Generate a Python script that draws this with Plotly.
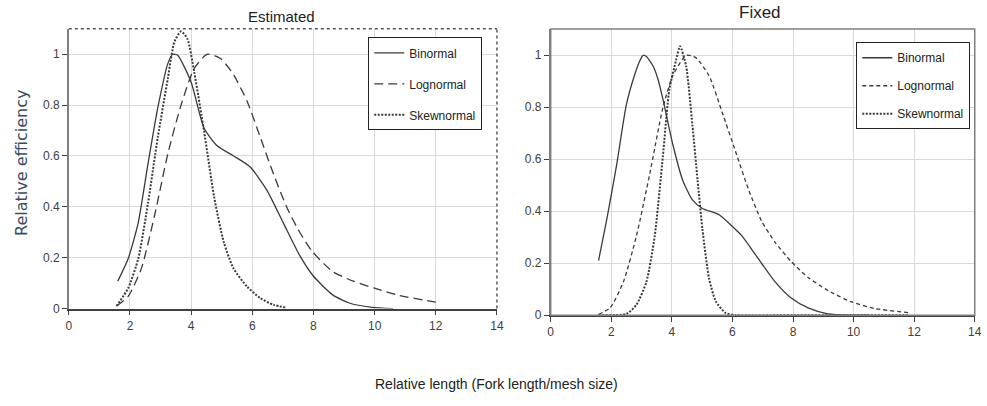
import plotly.graph_objects as go

# ---------------- data ----------------
# Estimated panel
est_bin_x = [1.6, 1.94, 2.27, 2.59, 2.91, 3.24, 3.4, 3.56, 4.0, 4.42, 4.85, 5.39, 5.93, 6.47, 7.01, 7.55, 7.98, 8.63, 9.17, 9.92, 10.6]
est_bin_y = [0.108, 0.196, 0.338, 0.57, 0.79, 0.964, 1.0, 0.996, 0.89, 0.71, 0.64, 0.60, 0.557, 0.467, 0.338, 0.209, 0.13, 0.054, 0.022, 0.005, 0.0]

est_log_x = [1.56, 1.94, 2.37, 2.8, 3.24, 3.67, 4.1, 4.53, 4.96, 5.39, 5.83, 6.26, 6.69, 7.12, 7.55, 7.98, 8.63, 9.3, 10.0, 10.8, 12.0]
est_log_y = [0.01, 0.048, 0.157, 0.364, 0.61, 0.80, 0.944, 1.0, 0.983, 0.919, 0.815, 0.674, 0.53, 0.40, 0.30, 0.222, 0.145, 0.108, 0.08, 0.052, 0.025]

est_skw_x = [1.56, 1.94, 2.27, 2.59, 2.91, 3.24, 3.45, 3.67, 3.88, 4.1, 4.42, 4.75, 5.07, 5.39, 5.83, 6.26, 6.69, 7.12]
est_skw_y = [0.01, 0.08, 0.196, 0.415, 0.674, 0.906, 1.048, 1.09, 1.06, 0.93, 0.70, 0.44, 0.26, 0.157, 0.086, 0.041, 0.015, 0.003]

# Fixed panel
fix_bin_x = [1.58, 1.85, 2.18, 2.5, 2.78, 2.94, 3.05, 3.16, 3.38, 3.54, 3.7, 4.03, 4.36, 4.68, 5.01, 5.56, 5.99, 6.32, 6.86, 7.41, 7.95, 8.5, 9.15, 9.91, 10.5]
fix_bin_y = [0.21, 0.367, 0.58, 0.81, 0.927, 0.977, 0.999, 0.994, 0.958, 0.908, 0.833, 0.657, 0.518, 0.443, 0.41, 0.386, 0.342, 0.304, 0.216, 0.128, 0.065, 0.028, 0.005, 0.0, 0.0]

fix_log_x = [1.58, 1.96, 2.4, 2.83, 3.27, 3.7, 4.03, 4.47, 4.79, 5.23, 5.66, 6.1, 6.54, 6.97, 7.41, 7.95, 8.5, 9.15, 9.91, 10.68, 11.87]
fix_log_y = [0.003, 0.028, 0.128, 0.304, 0.543, 0.795, 0.92, 0.999, 0.99, 0.92, 0.78, 0.63, 0.48, 0.36, 0.28, 0.205, 0.145, 0.095, 0.052, 0.026, 0.009]

fix_skw_x = [1.58, 2.5, 2.83, 3.16, 3.43, 3.7, 3.92, 4.14, 4.27, 4.47, 4.68, 4.85, 5.01, 5.23, 5.45, 5.77, 6.1, 8.0, 10.0, 11.8]
fix_skw_y = [0.0, 0.005, 0.04, 0.128, 0.30, 0.606, 0.87, 0.98, 1.034, 0.958, 0.73, 0.518, 0.33, 0.14, 0.053, 0.009, 0.0, 0.0, 0.0, 0.0]

series_names = ["Binormal", "Lognormal", "Skewnormal"]
x_ticks = [0, 2, 4, 6, 8, 10, 12, 14]
y_ticks = [0, 0.2, 0.4, 0.6, 0.8, 1]
panel_titles = ["Estimated", "Fixed"]
x_title = "Relative length (Fork length/mesh size)"
y_title = "Relative efficiency"

# ---------------- figure ----------------
FONT = "Liberation Sans, Arial, sans-serif"
LINE = "#3a3a3a"

fig = go.Figure()

def add(x, y, name, dash, width, xa, ya, legend):
    fig.add_trace(go.Scatter(
        x=x, y=y, name=name, mode="lines",
        line=dict(color=LINE, dash=dash, width=width, shape="spline", smoothing=0.6),
        xaxis=xa, yaxis=ya, legend=legend, legendgroup=legend + name,
    ))

add(est_bin_x, est_bin_y, series_names[0], "solid", 1.3, "x", "y", "legend")
add(est_log_x, est_log_y, series_names[1], "9px,5px", 1.3, "x", "y", "legend")
add(est_skw_x, est_skw_y, series_names[2], "2px,1.5px", 2.0, "x", "y", "legend")

add(fix_bin_x, fix_bin_y, series_names[0], "solid", 1.3, "x2", "y2", "legend2")
add(fix_log_x, fix_log_y, series_names[1], "4px,3px", 1.3, "x2", "y2", "legend2")
add(fix_skw_x, fix_skw_y, series_names[2], "2px,1.5px", 2.0, "x2", "y2", "legend2")

W, H = 987, 406
def dx(px): return px / W
def dy(py): return 1 - py / H

axis_common = dict(
    showgrid=True, gridcolor="#d9d9d9", gridwidth=1,
    zeroline=False, ticks="outside", ticklen=5, tickcolor="#404040",
    tickfont=dict(family=FONT, size=12, color="#404040"),
    showline=True, linewidth=1.5,
)

fig.update_layout(
    width=W, height=H,
    margin=dict(l=0, r=0, t=0, b=0),
    paper_bgcolor="white", plot_bgcolor="white",
    showlegend=True,
    xaxis=dict(domain=[dx(66.5), dx(499)], range=[0, 14], tickvals=x_ticks,
               linecolor="#404040", anchor="y", **axis_common),
    yaxis=dict(domain=[dy(314), dy(29.3)], range=[0, 1.1], tickvals=y_ticks,
               linecolor="#7f7f7f", anchor="x", **axis_common),
    xaxis2=dict(domain=[dx(553.3), dx(981.7)], range=[0, 14], tickvals=x_ticks,
                linecolor="#404040", anchor="y2", **axis_common),
    yaxis2=dict(domain=[dy(320.7), dy(29.5)], range=[0, 1.1], tickvals=y_ticks,
                linecolor="#7f7f7f", anchor="x2", **axis_common),
    legend=dict(x=dx(369), y=dy(38), xanchor="left", yanchor="top",
                bgcolor="white", bordercolor="#222", borderwidth=1,
                font=dict(family=FONT, size=12, color="#222"),
                tracegroupgap=12, itemwidth=30),
    legend2=dict(x=dx(862), y=dy(43), xanchor="left", yanchor="top",
                 bgcolor="white", bordercolor="#222", borderwidth=1,
                 font=dict(family=FONT, size=12, color="#222"),
                 tracegroupgap=9, itemwidth=30),
)

# panel borders
fig.add_shape(type="line", xref="x domain", yref="y domain", x0=0, x1=1, y0=1, y1=1,
              line=dict(color="#555", width=1.5, dash="dot"))
fig.add_shape(type="line", xref="x domain", yref="y domain", x0=1, x1=1, y0=0, y1=1,
              line=dict(color="#555", width=1.5, dash="dot"))
fig.add_shape(type="rect", xref="x2 domain", yref="y2 domain", x0=0, x1=1, y0=0, y1=1,
              line=dict(color="#7f7f7f", width=1.5), layer="above")

# titles and axis labels
def label(text, px, py, size, family=FONT, color="#222", angle=0):
    fig.add_annotation(text=text, x=dx(px), y=dy(py), xref="paper", yref="paper",
                       xanchor="center", yanchor="middle", showarrow=False,
                       textangle=angle, font=dict(family=family, size=size, color=color))

label(panel_titles[0], 281, 17, 15)
label(panel_titles[1], 765, 13, 17)
label(x_title, 499, 391, 14)
label(y_title, 18, 166, 16, family="DejaVu Sans, sans-serif", color="#3c4b63", angle=-90)

fig.write_html("out.html")
